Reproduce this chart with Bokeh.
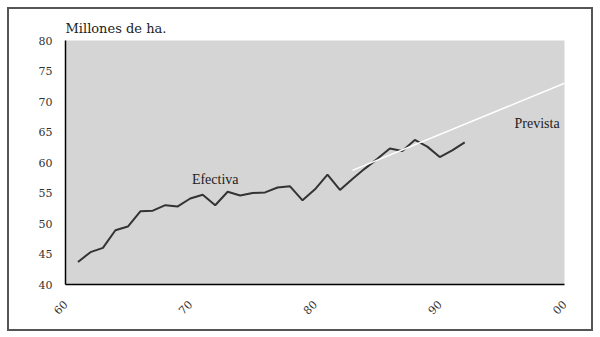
import math
from bokeh.plotting import figure
from bokeh.models import Range1d, FixedTicker, Label
from bokeh.embed import file_html
from bokeh.resources import INLINE

years = list(range(61, 93))
efectiva = [43.7, 45.3, 46.0, 48.9, 49.5, 52.0, 52.1, 53.0, 52.8, 54.1, 54.7, 53.0,
            55.2, 54.6, 55.0, 55.1, 55.9, 56.1, 53.8, 55.6, 58.0, 55.5, 57.3, 59.0,
            60.6, 62.3, 61.9, 63.7, 62.6, 60.9, 62.0, 63.3]
prev_years = [83, 100]
prevista = [58.7, 73.0]
x_ticks = [60, 70, 80, 90, 100]
x_labels = {60: "60", 70: "70", 80: "80", 90: "90", 100: "00"}
y_ticks = [40, 45, 50, 55, 60, 65, 70, 75, 80]

p = figure(width=582, height=320, output_backend="svg", toolbar_location=None,
           x_range=Range1d(60, 100), y_range=Range1d(40, 80),
           min_border_left=56, min_border_right=27, min_border_top=31, min_border_bottom=45,
           margin=(9, 9, 8, 9))
p.styles = {"outline": "2px solid #555555"}
p.background_fill_color = "#d5d5d5"
p.border_fill_color = "white"
p.outline_line_color = None
p.grid.grid_line_color = None

p.title.text = "Millones de ha."
p.title.text_font = "DejaVu Serif"
p.title.text_font_size = "13px"
p.title.text_font_style = "normal"
p.title.text_color = "#222222"
p.title.align = "left"
p.title.offset = 0

for ax in (p.xaxis[0], p.yaxis[0]):
    ax.axis_line_color = "black"
    ax.axis_line_width = 1.5
    ax.major_tick_line_color = None
    ax.minor_tick_line_color = None
    ax.major_label_text_font = "DejaVu Serif"
    ax.major_label_text_font_size = "11px"
    ax.major_label_text_color = "#333333"

p.xaxis.major_label_standoff = 12
p.yaxis.major_label_standoff = 7
p.xaxis.ticker = FixedTicker(ticks=x_ticks)
p.xaxis.major_label_overrides = x_labels
p.xaxis.major_label_orientation = math.pi / 4
p.yaxis.ticker = FixedTicker(ticks=y_ticks)

p.line(years, efectiva, line_color="#333333", line_width=2)
p.line(prev_years, prevista, line_color="white", line_width=1.5)

p.add_layout(Label(x=72.0, y=57.2, text="Efectiva", text_align="center", text_baseline="middle",
                   text_font="Liberation Serif", text_font_size="14px", text_color="#222222"))
p.add_layout(Label(x=97.8, y=66.4, text="Prevista", text_align="center", text_baseline="middle",
                   text_font="Liberation Serif", text_font_size="14px", text_color="#222222"))

open("out.html", "w").write(file_html(p, INLINE))
